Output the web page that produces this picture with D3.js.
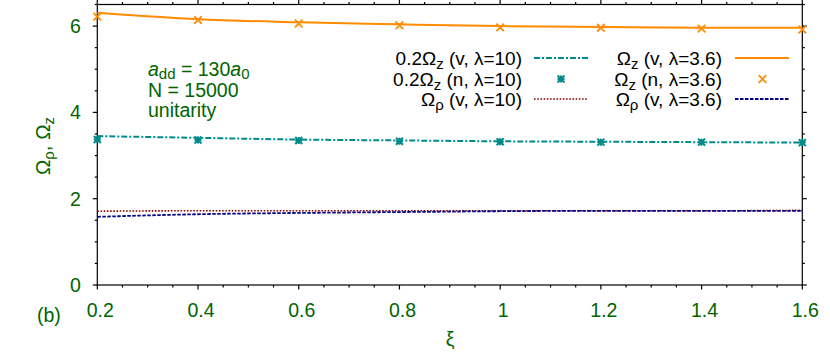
<!DOCTYPE html>
<html>
<head>
<meta charset="utf-8">
<script src="https://cdn.jsdelivr.net/npm/d3@7"></script>
<style>
  body { margin: 0; background: #fff; }
  svg { display: block; font-family: "Liberation Sans", Arial, sans-serif; }
</style>
</head>
<body>
<script>
// xi values
var xi = [0.2, 0.4, 0.6, 0.8, 1.0, 1.2, 1.4, 1.6];
// Omega_z (v, lambda=3.6)
var omzV36 = [6.31, 6.16, 6.09, 6.04, 6.00, 5.98, 5.96, 5.96];
// Omega_z (n, lambda=3.6)
var omzN36 = [6.22, 6.14, 6.06, 6.02, 5.97, 5.96, 5.94, 5.92];
// 0.2 Omega_z (v, lambda=10)
var omzV10 = [3.45, 3.41, 3.37, 3.35, 3.33, 3.32, 3.31, 3.30];
// 0.2 Omega_z (n, lambda=10)
var omzN10 = [3.37, 3.36, 3.35, 3.33, 3.32, 3.31, 3.31, 3.30];
// Omega_rho (v, lambda=10)
var omrV10 = [1.71, 1.72, 1.72, 1.72, 1.72, 1.72, 1.72, 1.73];
// Omega_rho (v, lambda=3.6)
var omrV36 = [1.58, 1.64, 1.67, 1.69, 1.71, 1.72, 1.72, 1.72];

var xTicks = [0.2, 0.4, 0.6, 0.8, 1.0, 1.2, 1.4, 1.6];
var yTicks = [0, 2, 4, 6];

var green = "#006400";
var fs = "19.5px", fsSub = "15px";
var width = 830, height = 356;
var plotL = 97.3, plotR = 802.3, plotT = 4.5, plotB = 285;

var svg = d3.select("body").append("svg")
    .attr("width", width)
    .attr("height", height);

var x = d3.scaleLinear().domain([0.2, 1.6]).range([plotL, plotR]);
var y = d3.scaleLinear().domain([0, 6.5]).range([plotB, plotT]);

// minor ticks
var xMinor = d3.range(0.2, 1.6001, 0.05);
var yMinor = d3.range(0, 6.5001, 0.5);

var axes = svg.append("g").attr("stroke", "#000").attr("stroke-width", 1.2);

// frame
axes.append("rect")
    .attr("x", plotL).attr("y", plotT)
    .attr("width", plotR - plotL).attr("height", plotB - plotT)
    .attr("fill", "none");

xMinor.forEach(function(v) {
    var isMajor = Math.abs(v * 5 - Math.round(v * 5)) < 1e-6;
    var len = isMajor ? 4.5 : 2.5;
    axes.append("line").attr("x1", x(v)).attr("x2", x(v)).attr("y1", plotB).attr("y2", plotB + len);
    axes.append("line").attr("x1", x(v)).attr("x2", x(v)).attr("y1", plotT).attr("y2", plotT - len);
});
yMinor.forEach(function(v) {
    var isMajor = Math.abs(v / 2 - Math.round(v / 2)) < 1e-6;
    var len = isMajor ? 4.5 : 2.5;
    axes.append("line").attr("y1", y(v)).attr("y2", y(v)).attr("x1", plotL).attr("x2", plotL - len);
    axes.append("line").attr("y1", y(v)).attr("y2", y(v)).attr("x1", plotR).attr("x2", plotR + len);
});

// tick labels
svg.append("g").selectAll("text")
    .data(xTicks)
    .enter()
    .append("text")
    .attr("x", function(d) { return x(d) + 3; })
    .attr("y", plotB + 32)
    .attr("text-anchor", "middle")
    .attr("fill", green)
    .style("font-size", fs)
    .text(function(d) { return d3.format("")(+d.toFixed(1)); });

svg.append("g").selectAll("text")
    .data(yTicks)
    .enter()
    .append("text")
    .attr("x", plotL - 16.5)
    .attr("y", function(d) { return y(d) + 7; })
    .attr("text-anchor", "end")
    .attr("fill", green)
    .style("font-size", fs)
    .text(function(d) { return d; });

// axis labels
svg.append("text")
    .attr("x", 450).attr("y", 346)
    .attr("text-anchor", "middle")
    .attr("fill", green)
    .style("font-size", fs)
    .text("ξ");

var yl = svg.append("text")
    .attr("transform", "translate(50,146) rotate(-90)")
    .attr("text-anchor", "middle")
    .attr("fill", green)
    .style("font-size", "20.5px");
yl.append("tspan").text("Ω");
yl.append("tspan").attr("dy", 4).style("font-size", fsSub).text("ρ");
yl.append("tspan").attr("dy", -4).text(", Ω");
yl.append("tspan").attr("dy", 4).style("font-size", fsSub).text("z");

svg.append("text")
    .attr("x", 37).attr("y", 322)
    .attr("fill", green)
    .style("font-size", fs)
    .text("(b)");

// annotation
var ann = svg.append("g").attr("fill", green).style("font-size", fs);
var a1 = ann.append("text").attr("x", 148).attr("y", 76);
a1.append("tspan").style("font-style", "italic").text("a");
a1.append("tspan").attr("dy", 3).style("font-size", fsSub).text("dd");
a1.append("tspan").attr("dy", -3).text(" = 130");
a1.append("tspan").style("font-style", "italic").text("a");
a1.append("tspan").attr("dy", 3).style("font-size", fsSub).text("0");
ann.append("text").attr("x", 148).attr("y", 97).text("N = 15000");
ann.append("text").attr("x", 148).attr("y", 117).text("unitarity");

// series
var plot = svg.append("g");
function pts(vals) { return xi.map(function(d, i) { return [d, vals[i]]; }); }
var line = d3.line()
    .x(function(d) { return x(d[0]); })
    .y(function(d) { return y(d[1]); })
    .curve(d3.curveMonotoneX);

var styles = {
    omzV36: { color: "#ff8c00", width: 2, dash: null },
    omzV10: { color: "#008b8b", width: 2, dash: "6,2,2,2" },
    omrV10: { color: "#8b0000", width: 1.6, dash: "1.6,1.6" },
    omrV36: { color: "#00008b", width: 1.8, dash: "3.5,1.5" }
};

function drawLine(vals, st) {
    plot.append("path")
        .attr("d", line(pts(vals)))
        .attr("fill", "none")
        .attr("stroke", st.color)
        .attr("stroke-width", st.width)
        .attr("stroke-dasharray", st.dash);
}
drawLine(omrV10, styles.omrV10);
drawLine(omrV36, styles.omrV36);
drawLine(omzV10, styles.omzV10);
drawLine(omzV36, styles.omzV36);

function cross(g, cx, cy, color) {
    var s = 3.8;
    g.append("path")
        .attr("d", "M" + (cx - s) + "," + (cy - s) + "L" + (cx + s) + "," + (cy + s) +
                   "M" + (cx - s) + "," + (cy + s) + "L" + (cx + s) + "," + (cy - s))
        .attr("stroke", color).attr("stroke-width", 1.8).attr("fill", "none");
}
function star(g, cx, cy, color) {
    var s = 3.5;
    g.append("path")
        .attr("d", "M" + (cx - s) + "," + (cy - s) + "L" + (cx + s) + "," + (cy + s) +
                   "M" + (cx - s) + "," + (cy + s) + "L" + (cx + s) + "," + (cy - s) +
                   "M" + (cx - s) + "," + cy + "L" + (cx + s) + "," + cy +
                   "M" + cx + "," + (cy - s) + "L" + cx + "," + (cy + s))
        .attr("stroke", color).attr("stroke-width", 2).attr("fill", "none");
}
pts(omzN10).forEach(function(p) { star(plot, x(p[0]), y(p[1]), "#008b8b"); });
pts(omzN36).forEach(function(p) { cross(plot, x(p[0]), y(p[1]), "#ff8c00"); });

// legend
var legend = svg.append("g").style("font-size", "19px").attr("fill", "#000");
function legText(xr, yy, pre, sym, sub, post) {
    var t = legend.append("text").attr("x", xr).attr("y", yy + 6.7).attr("text-anchor", "end");
    t.append("tspan").text(pre + sym);
    t.append("tspan").attr("dy", 4).style("font-size", fsSub).text(sub);
    t.append("tspan").attr("dy", -4).text(post);
}
var rows = [58, 79, 99];
legText(522, rows[0], "0.2", "Ω", "z", " (v, λ=10)");
legText(522, rows[1], "0.2", "Ω", "z", " (n, λ=10)");
legText(522, rows[2], "", "Ω", "ρ", " (v, λ=10)");
legText(722, rows[0], "", "Ω", "z", " (v, λ=3.6)");
legText(722, rows[1], "", "Ω", "z", " (n, λ=3.6)");
legText(722, rows[2], "", "Ω", "ρ", " (v, λ=3.6)");

function legLine(x1, yy, st) {
    legend.append("line")
        .attr("x1", x1).attr("x2", x1 + 54).attr("y1", yy).attr("y2", yy)
        .attr("stroke", st.color).attr("stroke-width", st.width)
        .attr("stroke-dasharray", st.dash);
}
legLine(534, rows[0], styles.omzV10);
star(legend, 561, rows[1], "#008b8b");
legLine(534, rows[2], styles.omrV10);
legLine(735, rows[0], styles.omzV36);
cross(legend, 762.5, rows[1], "#ff8c00");
legLine(735, rows[2], styles.omrV36);
</script>
</body>
</html>
